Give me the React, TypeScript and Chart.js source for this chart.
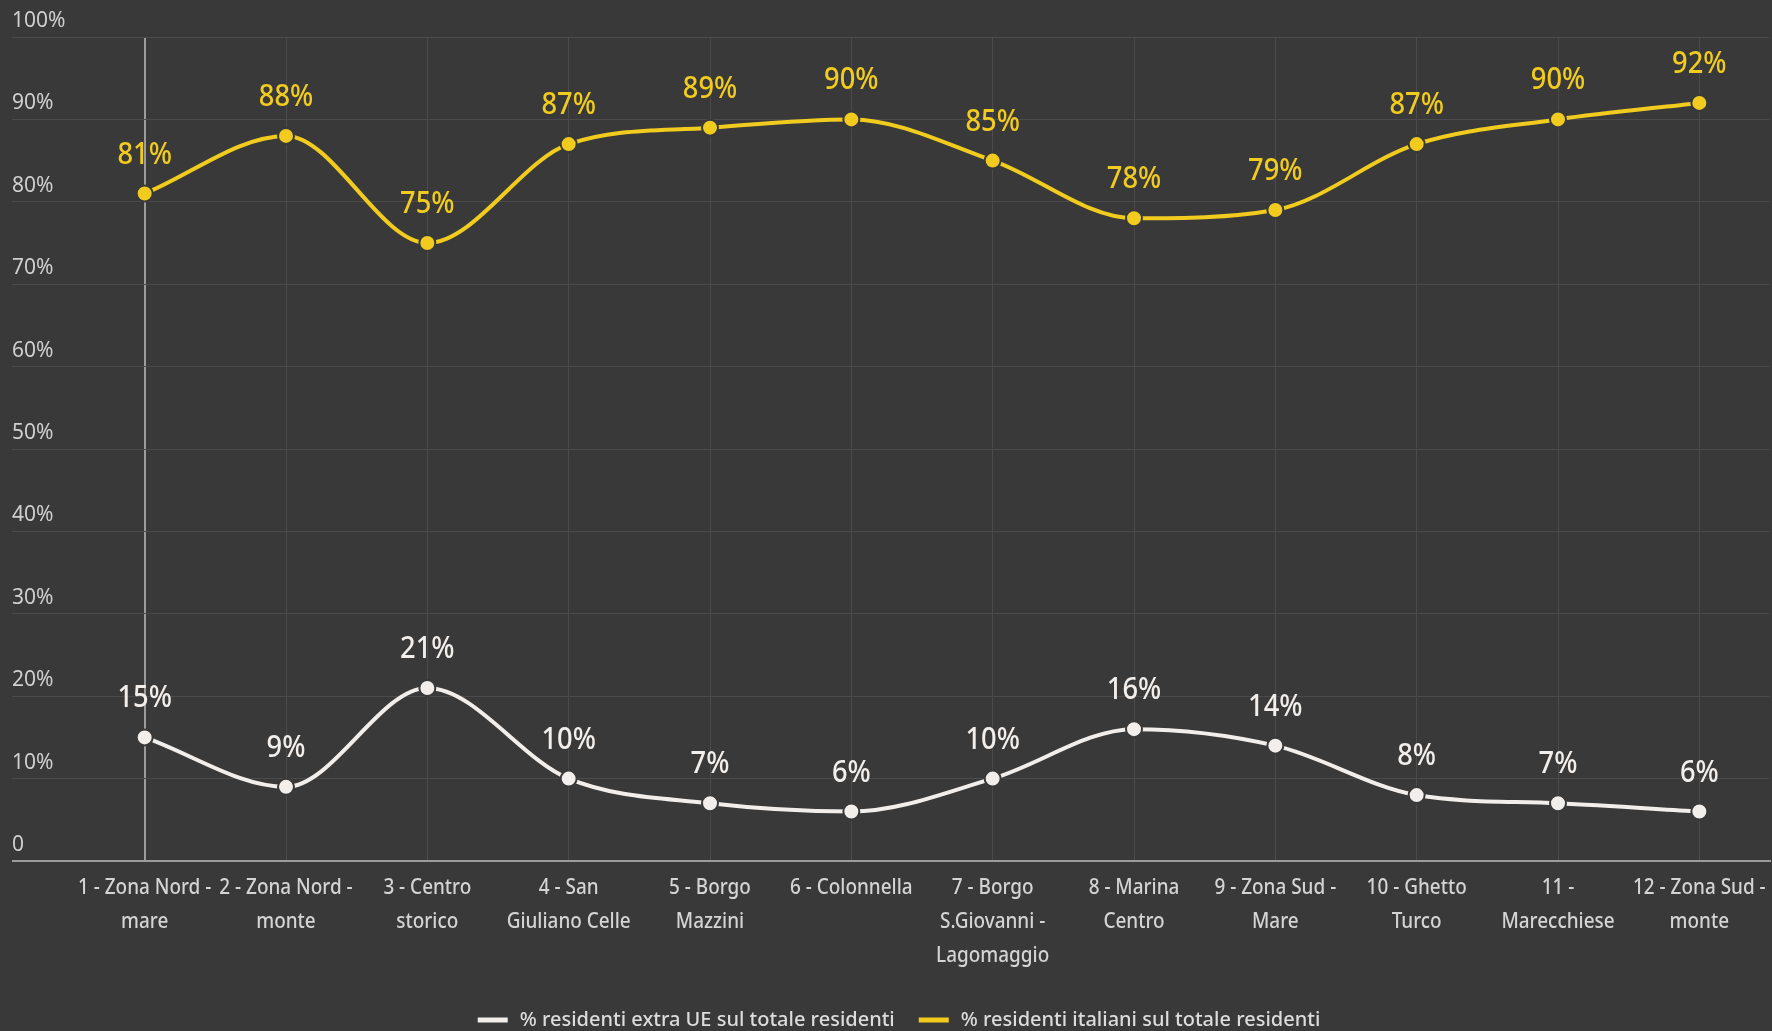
import React, { useEffect, useRef } from "react";
import { Chart, registerables } from "chart.js";

Chart.register(...registerables);

const categories: string[][] = [
  ["1 - Zona Nord -", "mare"],
  ["2 - Zona Nord -", "monte"],
  ["3 - Centro", "storico"],
  ["4 - San", "Giuliano Celle"],
  ["5 - Borgo", "Mazzini"],
  ["6 - Colonnella"],
  ["7 - Borgo", "S.Giovanni -", "Lagomaggio"],
  ["8 - Marina", "Centro"],
  ["9 - Zona Sud -", "Mare"],
  ["10 - Ghetto", "Turco"],
  ["11 -", "Marecchiese"],
  ["12 - Zona Sud -", "monte"],
];

const extraUE: number[] = [15, 9, 21, 10, 7, 6, 10, 16, 14, 8, 7, 6];
const italiani: number[] = [81, 88, 75, 87, 89, 90, 85, 78, 79, 87, 90, 92];

const seriesNames: string[] = [
  "% residenti extra UE sul totale residenti",
  "% residenti italiani sul totale residenti",
];

const yTicks: number[] = [0, 10, 20, 30, 40, 50, 60, 70, 80, 90, 100];

const BG = "#393939";
const WHITE = "#f2eeeb";
const YELLOW = "#f1cc1f";
const FONT = "'Noto Sans', 'Open Sans', sans-serif";

const dataLabelPlugin = {
  id: "dataLabels",
  afterDatasetsDraw(chart: any) {
    const ctx = chart.ctx;
    ctx.save();
    ctx.font = `500 31px ${FONT}`;
    ctx.textAlign = "center";
    ctx.textBaseline = "alphabetic";
    chart.data.datasets.forEach((ds: any, i: number) => {
      const meta = chart.getDatasetMeta(i);
      ctx.fillStyle = ds.borderColor;
      meta.data.forEach((pt: any, j: number) => {
        ctx.save();
        ctx.translate(pt.x, pt.y - 30);
        ctx.scale(0.88, 1);
        ctx.fillText(`${ds.data[j]}%`, 0, 0);
        ctx.restore();
      });
    });
    ctx.restore();
  },
};

const xLabelPlugin = {
  id: "xLabels",
  afterDraw(chart: any) {
    const ctx = chart.ctx;
    const xs = chart.scales.x;
    ctx.save();
    ctx.font = `500 22px ${FONT}`;
    ctx.fillStyle = "#d4d4d4";
    ctx.textAlign = "center";
    ctx.textBaseline = "middle";
    categories.forEach((lines, i) => {
      const x = xs.getPixelForValue(i);
      lines.forEach((line, k) => {
        ctx.save();
        ctx.translate(x, chart.chartArea.bottom + 27 + k * 34);
        ctx.scale(0.86, 1);
        ctx.fillText(line, 0, 0);
        ctx.restore();
      });
    });
    ctx.restore();
  },
};

const legendPlugin = {
  id: "customLegend",
  afterDraw(chart: any) {
    const ctx = chart.ctx;
    ctx.save();
    ctx.font = `500 20px ${FONT}`;
    ctx.textBaseline = "middle";
    ctx.textAlign = "left";
    const boxW = 30;
    const boxH = 5;
    const gapBoxText = 12;
    const gapItems = 24;
    const items = chart.data.datasets.map((ds: any) => ({
      text: ds.label,
      color: ds.borderColor,
      w: boxW + gapBoxText + ctx.measureText(ds.label).width,
    }));
    const total =
      items.reduce((s: number, it: any) => s + it.w, 0) + gapItems * (items.length - 1);
    let x = chart.width / 2 + 13 - total / 2;
    const y = chart.height - 11;
    items.forEach((it: any) => {
      ctx.fillStyle = it.color;
      ctx.fillRect(x, y - boxH / 2, boxW, boxH);
      ctx.fillStyle = "#dcdcdc";
      ctx.fillText(it.text, x + boxW + gapBoxText, y);
      x += it.w + gapItems;
    });
    ctx.restore();
  },
};

const bgPlugin = {
  id: "bg",
  beforeDraw(chart: any) {
    const ctx = chart.ctx;
    ctx.save();
    ctx.fillStyle = BG;
    ctx.fillRect(0, 0, chart.width, chart.height);
    ctx.restore();
  },
};

export default function App() {
  const ref = useRef<HTMLCanvasElement | null>(null);
  useEffect(() => {
    if (!ref.current) return;
    const chart = new Chart(ref.current, {
      type: "line",
      data: {
        labels: categories,
        datasets: [
          {
            label: seriesNames[0],
            data: extraUE,
            borderColor: WHITE,
            backgroundColor: WHITE,
            borderWidth: 4,
            pointRadius: 8,
            pointBackgroundColor: WHITE,
            pointBorderColor: BG,
            pointBorderWidth: 2,
            cubicInterpolationMode: "monotone",
          },
          {
            label: seriesNames[1],
            data: italiani,
            borderColor: YELLOW,
            backgroundColor: YELLOW,
            borderWidth: 4,
            pointRadius: 8,
            pointBackgroundColor: YELLOW,
            pointBorderColor: BG,
            pointBorderWidth: 2,
            cubicInterpolationMode: "monotone",
          },
        ],
      },
      options: {
        animation: false,
        responsive: false,
        maintainAspectRatio: false,
        layout: { autoPadding: false, padding: { left: 12, right: 2, top: 37, bottom: 50 } },
        plugins: {
          tooltip: { enabled: false },
          legend: { display: false },
        },
        scales: {
          x: {
            offset: true,
            grid: {
              color: (c: any) => (c.index === 0 ? "#9c9c9c" : "#4b4b4b"),
              lineWidth: (c: any) => (c.index === 0 ? 2 : 1),
              drawTicks: false,
            },
            border: { color: "#9c9c9c", width: 2 },
            ticks: { display: false },
            afterFit: (s: any) => {
              s.height = 120;
              s.paddingLeft = 0;
              s.paddingRight = 0;
            },
          },
          y: {
            min: 0,
            max: 100,
            afterBuildTicks: (s: any) => {
              s.ticks = yTicks.map((v) => ({ value: v }));
            },
            grid: {
              color: (c: any) => (c.tick && c.tick.value === 0 ? "#9c9c9c" : "#4b4b4b"),
              lineWidth: (c: any) => (c.tick && c.tick.value === 0 ? 2 : 1),
              tickLength: 62,
            },
            border: { display: false },
            ticks: {
              color: "#cfcfcf",
              font: { family: FONT, size: 21 },
              crossAlign: "far",
              labelOffset: -16,
              callback: (v: any) => (v === 0 ? "0" : `${v}%`),
            },
            afterFit: (s: any) => {
              s.width = 62;
              s.paddingTop = 0;
              s.paddingBottom = 0;
            },
          },
        },
      },
      plugins: [bgPlugin, dataLabelPlugin, xLabelPlugin, legendPlugin],
    } as any);
    return () => chart.destroy();
  }, []);
  return (
    <div style={{ position: "fixed", left: 0, top: 0, width: 1772, height: 1031, background: BG }}>
      <canvas ref={ref} width={1772} height={1031} style={{ width: 1772, height: 1031, display: "block" }} />
    </div>
  );
}
